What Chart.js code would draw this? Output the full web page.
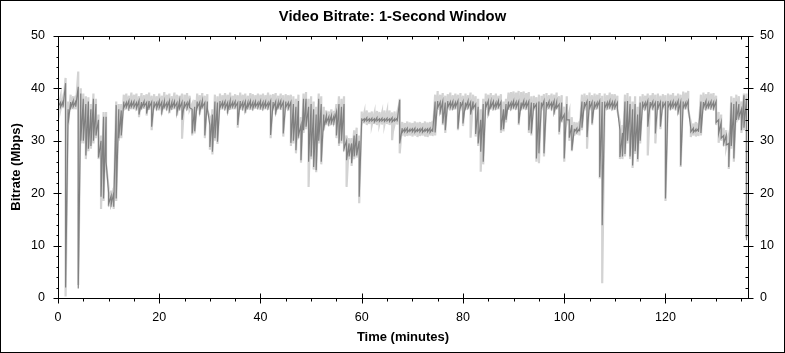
<!DOCTYPE html>
<html>
<head>
<meta charset="utf-8">
<title>Video Bitrate: 1-Second Window</title>
<script src="https://cdn.jsdelivr.net/npm/chart.js@4.4.1/dist/chart.umd.min.js"></script>
<style>
  html, body { margin: 0; padding: 0; background: #fff; }
  #wrap { width: 785px; height: 353px; }
</style>
</head>
<body>
<div id="wrap"><canvas id="bitrateChart" width="785" height="353"></canvas></div>
<script>
// readings every half minute.
// each reading has a top and a bottom value (the trace swings between them)
const STEP_MINUTES = 0.5;

// dark grey trace (Mbps)
const videoHigh = [
    37.5, 37.3, 37.5, 41, 36, 37.4, 37.6, 37.5, 40.3, 39,          // 0 - 4.5
    38, 37, 37.5, 36, 38, 37, 34, 30, 34.6, 34.6,                  // 5
    20, 19.5, 20, 36.8, 36, 35.8, 37.5, 37.3, 37.6, 37.4,          // 10
    37.5, 37.3, 37.6, 37.4, 37.5, 37.3, 37.6, 37.4, 37.5, 37.3,    // 15
    37.6, 37.4, 37.5, 37.3, 37.6, 37.4, 37.5, 37.3, 37.6, 37.4,    // 20
    37.5, 37.3, 37.6, 36, 36.5, 37.5, 37.4, 37.6, 37.3, 37.5,      // 25
    33, 35, 37.5, 37.3, 37.6, 37.4, 37.5, 37.3, 37.6, 37.4,        // 30
    37.5, 37.3, 37.6, 37.4, 37.5, 37.3, 37.6, 37.4, 37.5, 37.3,    // 35
    37.6, 37.4, 37.5, 37.3, 37.6, 37.4, 37.5, 37.3, 37.6, 37.4,    // 40
    37.5, 37.3, 37.4, 37, 36.5, 37.6, 33, 38, 38, 36.5,            // 45
    37, 36, 35, 38, 37, 35, 34.7, 34.6, 34.8, 34.7,                // 50
    35.5, 37, 36.5, 37, 30, 29.5, 29.5, 31, 31.3, 30,              // 55
    34.3, 34.2, 34.4, 34.2, 34.3, 34.2, 34.4, 34.2, 34.3, 34.2,    // 60
    34.3, 34.2, 34.4, 34.2, 34.3, 37.8, 32.4, 32.3, 32.4, 32.2,    // 65
    32.3, 32.4, 32.2, 32.3, 32.4, 32.2, 32.3, 32.4, 32.3, 37.5,    // 70
    37.6, 37.4, 37.5, 37.3, 37.6, 37.4, 37.5, 37.3, 37.6, 37.4,    // 75
    37.5, 37.3, 37.6, 37.4, 37.5, 37, 36.5, 34, 37, 37.5,          // 80
    37.6, 37.4, 37.5, 37.3, 37.6, 37.4, 36, 37, 37.5, 37.3,        // 85
    37.6, 37.4, 37.5, 37.3, 37.6, 37.4, 37.5, 37.3, 37.2, 37,      // 90
    37.5, 37.3, 37.6, 37.4, 37.5, 37.3, 37.6, 37.4, 37, 37.3,      // 95
    35, 37, 34, 33, 32.3, 32.4, 32.3, 37.5, 37.4, 37.5,            // 100
    37.6, 37.4, 37.5, 37.3, 37.6, 37.4, 37.5, 37.3, 37.6, 37.4,    // 105
    37.5, 37.3, 32, 31.5, 37.5, 37.6, 37, 36, 37, 35,              // 110
    37.3, 37.5, 37.3, 37.6, 37.4, 37.5, 37.3, 37.6, 37.4, 37.5,    // 115
    37.3, 37.6, 37.4, 37.5, 37.3, 37.6, 37.4, 37.5, 37.3, 37.6,    // 120
    32.3, 32.4, 32.2, 32.3, 37.5, 37.4, 37.6, 37.3, 37.5, 37.4,    // 125
    37.5, 34, 33.5, 31, 31, 29.5, 37.3, 37, 37.5, 37,              // 130
    36, 38.7, 38                                                   // 135 - 136
];
const videoLow = [
    36.5, 36.4, 36.5, 2, 33.3, 36.3, 36.5, 36.5, 1.8, 30,
    30, 27.2, 28.5, 29, 30, 31, 26.8, 19.3, 19, 26,
    18, 17.8, 17.4, 19, 30.5, 31, 36.3, 36.4, 36.2, 36.5,
    36.4, 36.2, 35, 36.3, 36.5, 35.2, 36.3, 32.7, 36.4, 36.2,
    36.3, 35.5, 36.4, 36.2, 35.8, 36.3, 36.4, 35.3, 36.2, 34,
    36.4, 36.2, 36.3, 31.4, 31.8, 36.3, 35.5, 36.4, 31, 36.2,
    28.8, 27.9, 30.5, 29.8, 36.3, 36.4, 36.2, 35.6, 36.3, 36.5,
    36.4, 33, 36.3, 36.2, 35.7, 36.4, 36.3, 36.2, 36.5, 36.4,
    36.3, 36.2, 36.4, 36.3, 31.1, 36.2, 35.4, 36.4, 36.3, 31.4,
    36.4, 36.2, 29.6, 30, 28.2, 31, 26.3, 32, 32.7, 26,
    27, 25, 24.4, 30, 26, 32.5, 33.5, 33.3, 33.4, 33.5,
    31, 29.5, 30, 28.5, 26.3, 27, 25.7, 27, 27.2, 19.3,
    33.8, 33.7, 33.8, 33.7, 33.8, 33.6, 33.8, 33.7, 33.8, 33.7,
    33.8, 33.7, 33.6, 33.8, 33.7, 29.5, 31.6, 31.7, 31.6, 31.8,
    31.7, 31.6, 31.8, 31.7, 31.6, 31.8, 31.7, 31.6, 31.7, 31.6,
    36.3, 35.5, 33.3, 32, 36.4, 36.3, 36.2, 36.4, 32.3, 36.3,
    33.3, 36.2, 36.3, 35, 36.2, 31.3, 29.5, 27.9, 26, 36.3,
    35.2, 36.4, 36.2, 36.3, 36.4, 32, 32.2, 34, 36.3, 36.2,
    36.4, 36.3, 33.3, 36.2, 36.4, 36.3, 32, 31.4, 36.2, 26.6,
    27.6, 36.2, 27.6, 36.3, 36.4, 36.2, 35.4, 36.3, 31.7, 34,
    26.6, 34, 30.6, 28.2, 31.7, 31.6, 31.8, 32.5, 36.3, 30.7,
    36.2, 33.3, 36.3, 36.4, 23.1, 13.9, 36.2, 36.3, 36.4, 36.2,
    36.3, 36.2, 26.9, 27, 27.5, 30, 27, 25.3, 28, 26.5,
    30, 36.3, 36.2, 32.7, 36.4, 36.3, 31.4, 36.2, 32.7, 36.4,
    19, 36.3, 36.2, 36.4, 36.3, 35.5, 25.3, 36.2, 36.4, 36.3,
    31.7, 31.6, 31.8, 31.7, 31.5, 36.3, 36.2, 36.4, 36.3, 36.2,
    33.5, 31.4, 30.5, 29.5, 29.2, 25, 29, 26.6, 34, 34.5,
    32, 32.5, 11
];

// light grey trace (Mbps)
const peakHigh = [
    38, 38.3, 38.2, 42, 37.5, 38.8, 38.5, 38.6, 43.2, 40,
    39, 38.5, 38.3, 37, 39, 38, 35, 31, 35.5, 35.5,
    21, 20.5, 21, 37.5, 37, 37, 38.8, 39, 38.6, 39.2,
    38.8, 39, 38.5, 39.1, 38.7, 38.9, 39.2, 38.6, 38.9, 38.5,
    39, 38.6, 39.3, 38.8, 39, 38.5, 39.2, 38.8, 38.6, 39,
    38.8, 39.1, 38.6, 37, 37.8, 39, 38.7, 39.1, 38.6, 38.9,
    34.5, 36, 38.8, 38.5, 39, 38.7, 39.1, 38.8, 39.2, 38.6,
    38.9, 38.7, 39.2, 38.8, 39, 38.6, 39.1, 38.9, 38.7, 39,
    38.8, 39, 38.7, 39.2, 38.8, 38.9, 39.1, 38.6, 39, 38.7,
    38.9, 38.7, 38.8, 38.5, 38, 38.8, 34.5, 39, 39.3, 38,
    38.5, 37.5, 36.5, 39, 38.5, 36.5, 35.8, 35.6, 36, 35.7,
    37, 38.5, 38, 38.5, 31, 30.5, 30.5, 32, 32.5, 31,
    35.6, 35.3, 35.8, 35.4, 35.6, 35.2, 35.7, 35.5, 35.3, 35.8,
    35.5, 35.8, 35.4, 35.6, 35.3, 38, 33.6, 33.4, 33.7, 33.5,
    33.4, 33.7, 33.5, 33.6, 33.4, 33.7, 33.5, 33.6, 33.8, 38.8,
    39.5, 38.8, 39.1, 38.6, 38.9, 39.2, 38.7, 39, 38.8, 39.1,
    38.6, 39, 38.7, 39.2, 38.8, 38.5, 38, 36, 38, 39,
    38.8, 39.1, 38.7, 39, 38.6, 38.9, 37.5, 38, 39.2, 39.3,
    39.4, 39.2, 39.5, 39.3, 39.4, 39.1, 39.3, 38.5, 38.6, 38.3,
    38.8, 38.6, 38.9, 39.1, 38.7, 39, 38.8, 39.2, 38.5, 38.7,
    36.5, 38.5, 35.5, 34.5, 33.6, 33.5, 33.7, 38.8, 39, 38.7,
    39.2, 38.7, 39, 38.8, 39.1, 38.6, 39, 38.7, 39.2, 38.9,
    38.9, 38.6, 33.5, 33, 38.8, 39.1, 38.5, 37.5, 38.5, 36.5,
    38.5, 38.9, 38.6, 39, 38.7, 39.1, 38.8, 39, 38.6, 38.9,
    38.7, 39, 38.8, 39.1, 38.6, 39, 38.8, 39.4, 39.2, 39.5,
    33.5, 33.3, 33.6, 33.4, 38.8, 39.2, 38.9, 39.3, 39, 39.1,
    38.6, 35.5, 35, 32.5, 32, 31, 38.5, 38.2, 38.8, 38.5,
    37.5, 39, 39
];
const peakLow = [
    36, 36, 36.2, 0.3, 33, 36, 36, 36, 2.5, 29.5,
    29.5, 26.5, 28, 28.5, 29.5, 30.5, 26.5, 17, 18.5, 25.5,
    17.5, 17.4, 17, 18.5, 30, 30.5, 35.8, 36, 35.7, 36,
    36, 35.8, 34.5, 36, 36.1, 34.8, 35.9, 32, 36, 35.8,
    35.8, 35, 36, 35.8, 35.3, 35.9, 36, 34.8, 35.8, 30.4,
    36, 35.8, 35.9, 31, 31.4, 35.8, 35, 36, 30.5, 35.8,
    28.3, 27.4, 30, 29.4, 35.9, 36, 35.8, 35.2, 35.9, 36,
    36, 32.5, 35.9, 35.8, 35.3, 36, 35.9, 35.8, 36.1, 36,
    35.9, 35.8, 36, 35.9, 30.5, 35.8, 35, 36, 35.9, 30.8,
    36, 35.8, 29, 29.5, 27.6, 30.5, 25.8, 31.5, 32.2, 21.2,
    26.5, 24.5, 24, 29.5, 25.5, 32, 33, 32.8, 33, 33,
    30.5, 29, 29.5, 28, 21.2, 26.5, 25.2, 26.5, 26.8, 18.1,
    33.2, 33.3, 33, 33.2, 33.1, 33.2, 33, 33.3, 33.1, 33.2,
    33.2, 33, 30.1, 33.2, 33.1, 27.6, 31, 30.8, 30.9, 31,
    30.8, 31, 30.7, 30.9, 31, 30.8, 30.7, 31, 30.9, 31,
    35.9, 35, 33, 31.5, 36, 35.8, 35.9, 36, 32, 35.8,
    32.8, 35.9, 36, 30.6, 35.8, 30.8, 29, 24.1, 25.5, 35.9,
    34.8, 36, 35.8, 35.9, 36, 31.5, 31.8, 33.5, 35.9, 35.8,
    36, 35.9, 33, 35.8, 36, 35.9, 31.5, 31, 35.8, 26,
    25.7, 35.8, 27, 35.9, 36, 35.8, 35, 36, 31.2, 33.5,
    26, 33.5, 30, 28, 31, 31.2, 31, 32, 35.8, 28.5,
    35.8, 33, 35.9, 36, 22.8, 2.8, 35.8, 35.9, 36, 35.8,
    35.9, 35.8, 26.5, 26.5, 27, 29.5, 26.5, 24.8, 27.5, 26,
    29.5, 35.9, 35.8, 27.2, 36, 35.8, 29.5, 35.9, 32.2, 36,
    18.5, 35.8, 35.9, 36, 35.8, 35, 25, 35.9, 36, 35.8,
    30.7, 31, 30.8, 30.9, 31, 35.9, 35.8, 36, 35.9, 35.8,
    33, 29.6, 30, 29, 28.8, 24.6, 28.5, 26, 33.5, 34,
    31.5, 32, 11.5
];

const minutes = videoHigh.map((v, i) => i * STEP_MINUTES);
const xMax = 136.3;
const xTicks = [0, 20, 40, 60, 80, 100, 120];
const yTicks = [0, 10, 20, 30, 40, 50];

// each reading: top value then bottom value, like a dense 1-second trace
function swingPoints(high, low) {
    const pts = [];
    minutes.forEach((t, i) => {
        pts.push({ x: t, y: high[i] }, { x: t, y: low[i] });
    });
    return pts;
}

const tickFont = { family: "'Liberation Sans', Arial, sans-serif", size: 12.5 };
const axisTitleFont = { family: "'Liberation Sans', Arial, sans-serif", size: 13, weight: 'bold' };

// plot frame, outer border and tick marks
const framePlugin = {
    id: 'framePlugin',
    afterDraw(chart) {
        const ctx = chart.ctx;
        const a = chart.chartArea;
        const xs = chart.scales.x;
        const ys = chart.scales.y;
        const L = Math.round(a.left) + 0.5, R = Math.round(a.right) + 0.5;
        const T = Math.round(a.top) + 0.5, B = Math.round(a.bottom) + 0.5;
        ctx.save();
        ctx.strokeStyle = '#000';
        ctx.lineWidth = 1;
        ctx.strokeRect(0.5, 0.5, chart.width - 1, chart.height - 1);
        ctx.strokeRect(L, T, R - L, B - T);
        ctx.beginPath();
        for (let m = 0; m <= xMax; m += 5) {
            const px = Math.round(xs.getPixelForValue(m)) + 0.5;
            if (m % 20 === 0) {
                ctx.moveTo(px, B - 5); ctx.lineTo(px, B + 5);
                ctx.moveTo(px, T); ctx.lineTo(px, T + 5);
            } else {
                ctx.moveTo(px, B); ctx.lineTo(px, B + 3);
                ctx.moveTo(px, T); ctx.lineTo(px, T + 3);
            }
        }
        for (let v = 0; v <= 50; v += 2) {
            const py = Math.round(ys.getPixelForValue(v)) + 0.5;
            if (v % 10 === 0) {
                ctx.moveTo(L - 5, py); ctx.lineTo(L + 3, py);
                ctx.moveTo(R - 5, py); ctx.lineTo(R + 5, py);
            } else {
                ctx.moveTo(L - 2, py); ctx.lineTo(L, py);
                ctx.moveTo(R - 3, py); ctx.lineTo(R, py);
            }
        }
        ctx.stroke();
        ctx.restore();
    }
};

const ctx = document.getElementById('bitrateChart').getContext('2d');
const bitrateChart = new Chart(ctx, {
    type: 'line',
    data: {
        datasets: [{
            label: 'Peak',
            data: swingPoints(peakHigh, peakLow),
            borderColor: '#d3d3d3',
            borderWidth: 2.2,
            pointRadius: 0,
            tension: 0,
            order: 2
        }, {
            label: 'Video',
            data: swingPoints(videoHigh, videoLow),
            borderColor: '#808080',
            borderWidth: 1.2,
            pointRadius: 0,
            tension: 0,
            order: 1
        }]
    },
    options: {
        responsive: false,
        animation: false,
        layout: { padding: 0 },
        plugins: {
            legend: { display: false },
            tooltip: { enabled: false },
            title: {
                display: true,
                text: 'Video Bitrate: 1-Second Window',
                color: '#000',
                font: { family: "'Liberation Sans', Arial, sans-serif", size: 14.8, weight: 'bold' },
                padding: { top: 8.5, bottom: 9.7 }
            }
        },
        scales: {
            x: {
                type: 'linear',
                position: 'bottom',
                min: 0,
                max: xMax,
                afterFit: s => { s.height = 55; },
                afterBuildTicks: s => { s.ticks = xTicks.map(v => ({ value: v })); },
                ticks: { color: '#000', font: tickFont, padding: 12, maxRotation: 0 },
                grid: { display: false, drawTicks: false },
                border: { display: false },
                title: { display: true, text: 'Time (minutes)', color: '#000', font: axisTitleFont, padding: { top: 0, bottom: 8.2 } }
            },
            y: {
                position: 'left',
                min: 0,
                max: 50,
                afterFit: s => { s.width = 58; },
                afterBuildTicks: s => { s.ticks = yTicks.map(v => ({ value: v })); },
                ticks: { color: '#000', font: tickFont, padding: 13 },
                grid: { display: false, drawTicks: false },
                border: { display: false },
                title: { display: true, text: 'Bitrate (Mbps)', color: '#000', font: axisTitleFont, padding: { top: 8.2, bottom: 0 } }
            },
            y2: {
                position: 'right',
                min: 0,
                max: 50,
                afterFit: s => { s.width = 37; },
                afterBuildTicks: s => { s.ticks = yTicks.map(v => ({ value: v })); },
                ticks: { color: '#000', font: tickFont, padding: 12 },
                grid: { display: false, drawTicks: false },
                border: { display: false }
            }
        }
    },
    plugins: [framePlugin]
});
</script>
</body>
</html>
